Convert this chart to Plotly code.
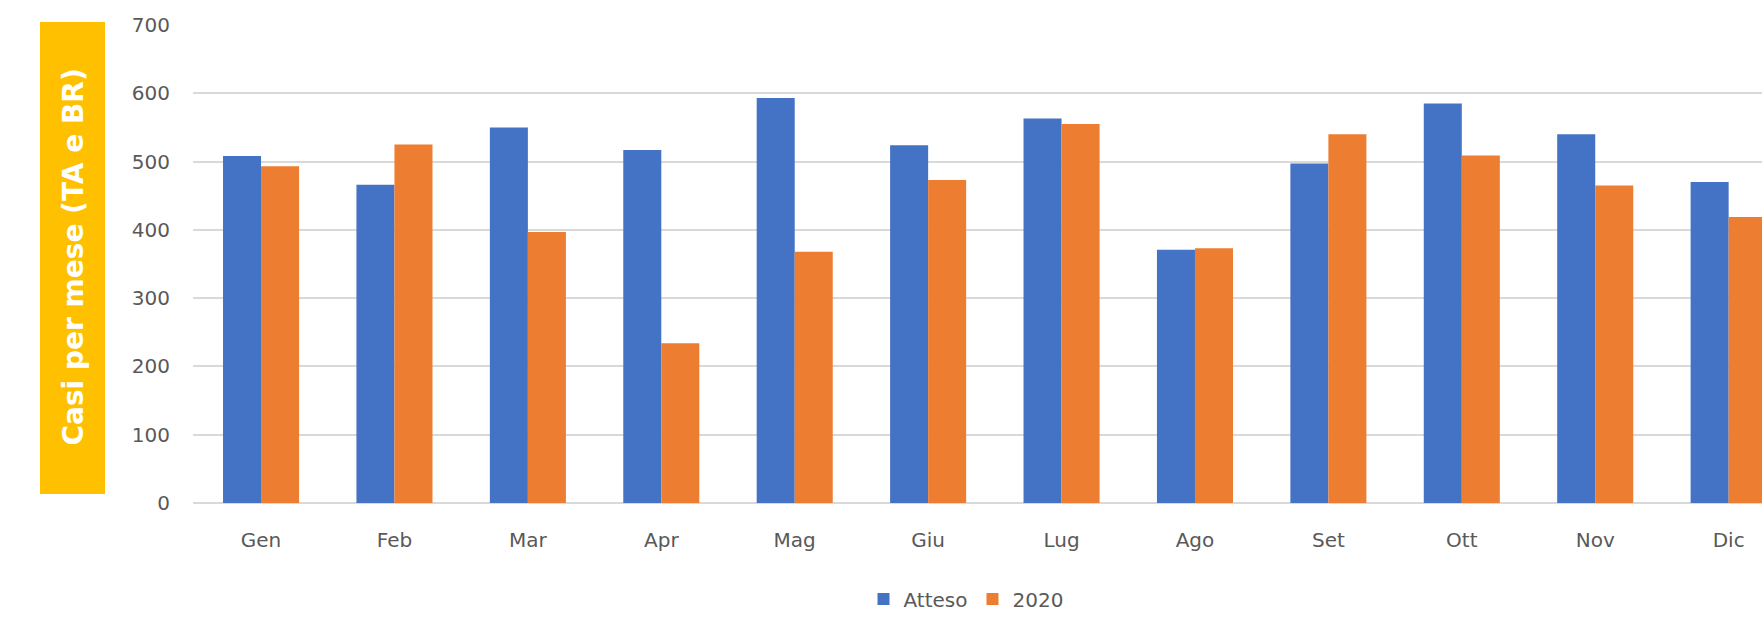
import plotly.graph_objects as go

mesi = ["Gen", "Feb", "Mar", "Apr", "Mag", "Giu", "Lug", "Ago", "Set", "Ott", "Nov", "Dic"]
atteso = [508, 466, 550, 517, 593, 524, 563, 371, 497, 585, 540, 470]
anno_2020 = [493, 525, 397, 234, 368, 473, 555, 373, 540, 509, 465, 419]
y_ticks = [0, 100, 200, 300, 400, 500, 600, 700]

BLUE = "#4472C4"
ORANGE = "#ED7D31"
GOLD = "#FFC000"
FONT = "DejaVu Sans"
TICK = "#595959"

W, H = 1762, 618
ML, MT, MB = 193, 25, 115
plot_w = W - ML
plot_h = H - MT - MB

def px_x(p):
    return (p - ML) / plot_w

def px_y(p):
    return (H - MB - p) / plot_h

fig = go.Figure()
fig.add_trace(go.Bar(x=mesi, y=atteso, name="Atteso", marker=dict(color=BLUE, line=dict(width=0))))
fig.add_trace(go.Bar(x=mesi, y=anno_2020, name="2020", marker=dict(color=ORANGE, line=dict(width=0))))

fig.update_layout(
    width=W, height=H,
    margin=dict(l=ML, r=0, t=MT, b=MB, pad=0, autoexpand=False),
    paper_bgcolor="white", plot_bgcolor="white",
    barmode="group", bargap=0.43, bargroupgap=0,
    font=dict(family=FONT, size=20, color=TICK),
    showlegend=True,
    legend=dict(orientation="h", x=px_x(966), xanchor="center", y=px_y(599), yanchor="middle",
                font=dict(size=20, color=TICK), itemwidth=30, bgcolor="rgba(0,0,0,0)"),
    xaxis=dict(range=[-0.51, 11.25], showgrid=False, showline=False, zeroline=False,
               ticks="", tickfont=dict(size=20, color=TICK), ticklabelstandoff=23, fixedrange=True),
    yaxis=dict(range=[0, 700], tickvals=y_ticks, ticktext=[str(v) for v in y_ticks],
               showgrid=True, gridcolor="#D9D9D9", gridwidth=1.5,
               zeroline=True, zerolinecolor="#D9D9D9", zerolinewidth=1.5,
               showline=False, ticks="", tickfont=dict(size=20, color=TICK),
               ticklabelstandoff=22, fixedrange=True),
)

fig.add_shape(type="rect", xref="paper", yref="paper",
              x0=px_x(40), x1=px_x(105), y0=px_y(494), y1=px_y(22),
              fillcolor=GOLD, line=dict(width=0), layer="below")
fig.add_annotation(text="<b>Casi per mese (TA e BR)</b>", xref="paper", yref="paper",
                   x=px_x(72.5), y=px_y(257), xanchor="center", yanchor="middle",
                   textangle=-90, showarrow=False,
                   font=dict(family=FONT, size=28, color="white"))

fig.write_html("out.html", config={"displayModeBar": False},
               post_script="document.body.style.margin='0';document.body.style.overflow='hidden';")
